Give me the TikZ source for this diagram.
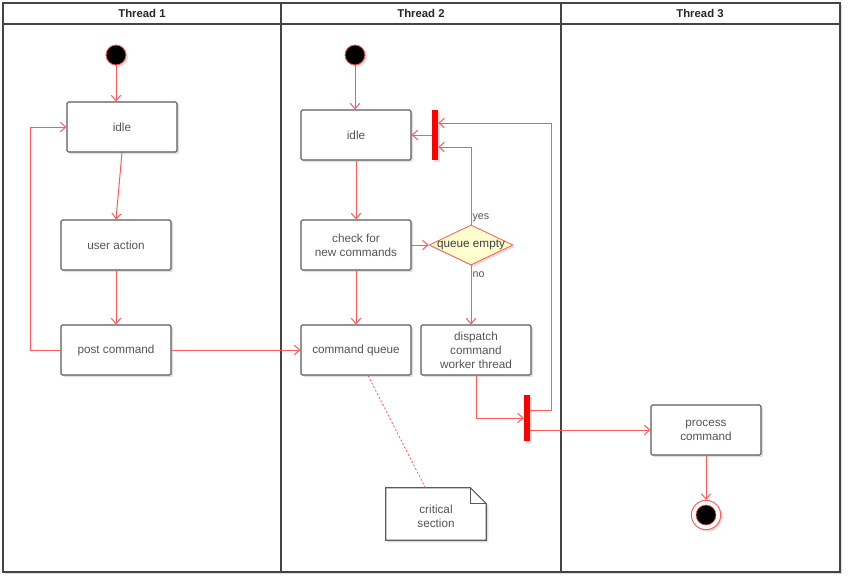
\documentclass[tikz,border=0pt]{standalone}
\usepackage{fontspec}
\setmainfont{Liberation Sans}
\usetikzlibrary{arrows.meta,shapes.geometric,shadows}
\definecolor{arr}{HTML}{FF5A5A}
\definecolor{boxline}{HTML}{5B5B5B}
\definecolor{txt}{HTML}{555555}
\definecolor{dfill}{HTML}{FEFECE}
\definecolor{frame}{HTML}{444444}
\begin{document}
\begin{tikzpicture}[x=0.75pt,y=-0.75pt,
  shad/.style={drop shadow={opacity=0.25,shadow xshift=1.5pt,shadow yshift=-1.5pt}},
  actbox/.style={draw=boxline, line width=0.8pt, fill=white, minimum width=82.5pt,
    minimum height=37.5pt, inner sep=1pt, align=center, text=txt,
    font=\fontsize{8.8}{10.5}\selectfont, rounded corners=1pt, shad},
  flow/.style={draw=arr, line width=0.75pt, -{Straight Barb[length=4pt,width=7pt]}},
  syncbar/.style={fill=red, draw=none, minimum width=4.5pt, inner sep=0pt, shad},
  startnode/.style={circle, fill=black, draw=arr, line width=0.6pt, minimum size=15pt, inner sep=0pt, shad},
  lbl/.style={text=txt, font=\fontsize{8}{9}\selectfont, inner sep=1pt},
  head/.style={font=\bfseries\fontsize{8.5}{10}\selectfont, text=black!85}
]
\useasboundingbox (0,0) rectangle (852,582);
% frame
\path[draw=frame, line width=0.8pt, fill=white, shad] (3,3) rectangle (840,572);
\draw[frame, line width=0.8pt] (3,24) -- (840,24);
\draw[frame, line width=0.8pt] (281,3) -- (281,572);
\draw[frame, line width=0.8pt] (561,3) -- (561,572);
\node[head] (h1) at (142,13.5) {Thread 1};
\node[head] (h2) at (421,13.5) {Thread 2};
\node[head] (h3) at (700,13.5) {Thread 3};

% Thread 1
\node[startnode] (s1) at (116,55) {};
\node[actbox] (idle1) at (122,127) {idle};
\node[actbox] (ua) at (116,245) {user action};
\node[actbox] (pc) at (116,350) {post command};

% Thread 2
\node[startnode] (s2) at (355,55) {};
\node[actbox] (idle2) at (356,135) {idle};
\node[actbox] (chk) at (356,245) {check for\\new commands};
\node[actbox] (cq) at (356,350) {command queue};
\node[diamond, draw=arr, fill=dfill, line width=0.6pt, minimum width=63pt, minimum height=30pt, inner sep=0pt, shad] (dia) at (471,245) {};
\node[text=black!75, font=\fontsize{8.8}{10}\selectfont, inner sep=0pt] (qtxt) at (471,245) {queue empty};
\node[actbox] (dsp) at (476,350) {dispatch\\command\\worker thread};
\node[syncbar, minimum height=37.5pt] (bar1) at (435,135) {};
\node[syncbar, minimum height=34pt] (bar2) at (527,418) {};
\coordinate (turn) at (551,123);

% note
\node[minimum width=75pt, minimum height=39pt, inner sep=0pt] (note) at (436,514) {};
\path[draw=boxline, line width=0.8pt, fill=white, shad]
  (note.north west) -- ([xshift=-12pt]note.north east) -- ([yshift=-12pt]note.north east)
  -- (note.south east) -- (note.south west) -- cycle;
\draw[boxline, line width=0.8pt] ([xshift=-12pt]note.north east) -- ([xshift=-12pt,yshift=-12pt]note.north east) -- ([yshift=-12pt]note.north east);
\node[text=txt, align=center, font=\fontsize{8.8}{10.5}\selectfont] (notetxt) at (436,516) {critical\\section};

% Thread 3
\node[actbox] (proc) at (706,430) {process\\command};
\node[circle, draw=arr, fill=white, line width=0.7pt, minimum size=22pt, inner sep=0pt, shad] (endo) at (706,515) {};
\node[circle, fill=black, draw=arr, line width=0.4pt, minimum size=15pt, inner sep=0pt] (endi) at (706,515) {};

% connectors
\draw[flow] (s1) -- (s1 |- idle1.north);
\draw[flow] (idle1.south) -- (ua.north);
\draw[flow] (ua) -- (pc);
\draw[flow] (pc.west) -- ++(-30,0) |- (idle1.west);
\draw[flow] (pc) -- (cq);
\draw[flow] (s2) -- (s2 |- idle2.north);
\draw[flow] (idle2) -- (chk);
\draw[flow] (chk) -- (cq);
\draw[flow] (chk.east) -- (dia.west);
\draw[flow] (dia.north) |- ([yshift=-9pt]bar1.east);
\draw[flow] (bar1.west) -- (idle2.east);
\draw[flow] (dia.south) -- (dia.south |- dsp.north);
\node[lbl, anchor=south west] (yes) at (471,223) {yes};
\node[lbl, anchor=north west] (no) at (471,270) {no};
\draw[flow] (dsp.south) |- (bar2.west);
\draw[flow] ([yshift=6pt]bar2.east) -| (turn) -- ([yshift=9pt]bar1.east);
\draw[flow] ([yshift=-9pt]bar2.east) -- (proc.west);
\draw[flow] (proc) -- (endo);
\draw[arr, line width=0.6pt, dash pattern=on 1.5pt off 1.5pt] ([xshift=9pt]cq.south) -- ([xshift=-8pt]note.north);
\end{tikzpicture}
\end{document}
